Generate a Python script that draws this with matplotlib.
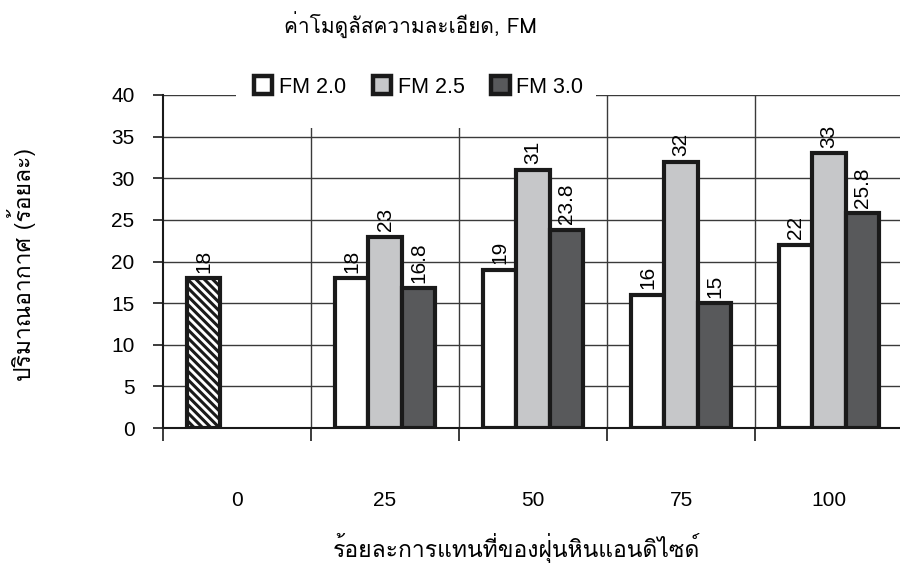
import matplotlib
matplotlib.use("Agg")
import matplotlib.pyplot as plt
from matplotlib import font_manager
from matplotlib.ft2font import FT2Font
from matplotlib.patches import Patch, Rectangle
import numpy as np

# ---- data -------------------------------------------------------------
categories = ["0", "25", "50", "75", "100"]
series_names = ["FM 2.0", "FM 2.5", "FM 3.0"]
control_value = 18          # reference mix (0 % replacement)
fm20 = [18, 19, 16, 22]     # 25, 50, 75, 100 %
fm25 = [23, 31, 32, 33]
fm30 = [16.8, 23.8, 15, 25.8]
control_label = "18"
fm20_labels = ["18", "19", "16", "22"]
fm25_labels = ["23", "31", "32", "33"]
fm30_labels = ["16.8", "23.8", "15", "25.8"]
y_ticks = [0, 5, 10, 15, 20, 25, 30, 35, 40]

title_text = "ค่าโมดูลัสความละเอียด, FM"
xlabel_text = "ร้อยละการแทนที่ของฝุ่นหินแอนดิไซด์"
ylabel_text = "ปริมาณอากาศ (ร้อยละ)"


# ---- fonts ------------------------------------------------------------
def family_with(ch):
    """Return the first installed family that contains the glyph ``ch``."""
    for f in font_manager.fontManager.ttflist:
        try:
            if ord(ch) in FT2Font(f.fname).get_charmap():
                return f.name
        except Exception:
            continue
    return None


thai = family_with("ก")
latin = "Liberation Sans"
thai_fams = ([thai] if thai else []) + [latin, "DejaVu Sans"]
plt.rcParams["font.family"] = [latin, "DejaVu Sans"]
plt.rcParams["hatch.linewidth"] = 2.2
plt.rcParams["hatch.color"] = "#111111"

# ---- figure -----------------------------------------------------------
W, H = 900, 567
fig = plt.figure(figsize=(W / 100, H / 100), dpi=100)
ax = fig.add_axes([163 / W, 139 / H, 740 / W, 333 / H])

colors = ["#ffffff", "#c6c7c9", "#58595b"]
edge = "#1a1a1a"
width = 0.226
offsets = [-width, 0.0, width]
x_rep = np.arange(1, len(categories))
label_fs = 15

# control bar (hatched)
ax.bar(0 + offsets[0], control_value, width, facecolor="white",
       edgecolor=edge, linewidth=3, hatch="\\\\\\\\", zorder=3)
ax.annotate(control_label, (0 + offsets[0], control_value),
            xytext=(0, 4), textcoords="offset points", rotation=90,
            ha="center", va="bottom", fontsize=label_fs)

for vals, labs, off, col in zip([fm20, fm25, fm30],
                                [fm20_labels, fm25_labels, fm30_labels],
                                offsets, colors):
    ax.bar(x_rep + off, vals, width, facecolor=col, edgecolor=edge,
           linewidth=3, zorder=3)
    for xi, v, lab in zip(x_rep + off, vals, labs):
        ax.annotate(lab, (xi, v), xytext=(0, 4), textcoords="offset points",
                    rotation=90, ha="center", va="bottom", fontsize=label_fs)

# axes limits, grid and category separators
ax.set_xlim(-0.5, len(categories) - 0.5)
ax.set_ylim(0, 40)
ax.set_yticks(y_ticks)
ax.yaxis.grid(True, color="#3a3a3a", linewidth=1.0, zorder=1)
ax.set_axisbelow(True)
ax.vlines(np.arange(0.5, len(categories) - 0.5), 0, 40,
          color="#3a3a3a", linewidth=1.0, zorder=1)

for s in ("top", "right"):
    ax.spines[s].set_visible(False)
for s in ("left", "bottom"):
    ax.spines[s].set_linewidth(1.5)
    ax.spines[s].set_color("#1a1a1a")

ax.set_xticks(np.arange(-0.5, len(categories) + 0.5, 1.0))
ax.set_xticklabels([])
ax.tick_params(axis="x", which="major", direction="out", length=9,
               width=1.2, color="#1a1a1a")
ax.set_xticks(np.arange(len(categories)), minor=True)
ax.set_xticklabels(categories, minor=True)
ax.tick_params(axis="x", which="minor", length=0, pad=45, labelsize=15)
ax.tick_params(axis="y", direction="out", length=7.5, width=1.2,
               color="#1a1a1a", pad=13, labelsize=15)

# white panel behind the legend
ax.add_patch(Rectangle((0.0986, 0.901), 0.486, 0.25,
                       transform=ax.transAxes, facecolor="white",
                       edgecolor="none", clip_on=False, zorder=2.5))
handles = [Patch(facecolor=c, edgecolor=edge, linewidth=3.2) for c in colors]
leg = ax.legend(handles, series_names, loc="center left",
                bbox_to_anchor=(0.123, 1.024), ncol=3, frameon=False,
                borderpad=0, borderaxespad=0, handlelength=0.85,
                handleheight=0.85, handletextpad=0.3, columnspacing=1.25,
                fontsize=15.5)
leg.set_zorder(4)

# titles
fig.text(410 / W, 1 - 25 / H, title_text, ha="center", va="center",
         fontsize=15, family=thai_fams)
fig.text(517 / W, 1 - 548 / H, xlabel_text, ha="center", va="center",
         fontsize=16.5, family=thai_fams)
fig.text(22 / W, 1 - 265 / H, ylabel_text, ha="center", va="center",
         rotation=90, fontsize=16.5, family=thai_fams)

fig.savefig("out.png", dpi=100)
